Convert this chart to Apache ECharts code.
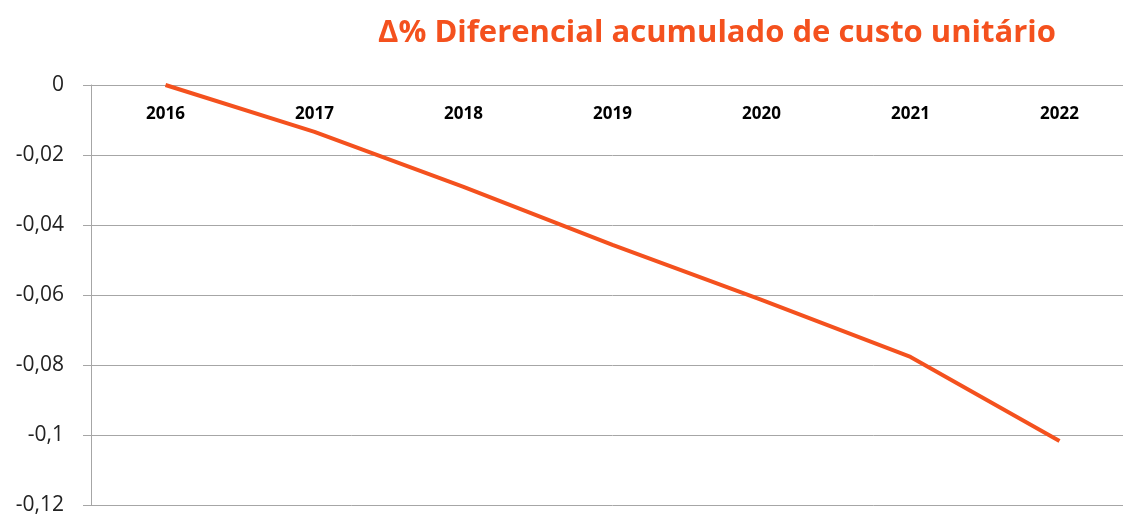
<!DOCTYPE html>
<html>
    <head>
        <meta charset="utf-8">
        <script src="https://cdn.jsdelivr.net/npm/echarts@6/dist/echarts.min.js"></script>
        <title>Diferencial acumulado</title>
        <style>
            html, body { margin: 0; padding: 0; background: #fff; overflow: hidden; }
            /* o gráfico original é cortado à direita: o div passa da janela */
            #main { width: 1134px; height: 517px; }
        </style>
    </head>
    <body>
        <div id="main"></div>
        <script type="text/javascript">
            // dados
            var anos = ['2016', '2017', '2018', '2019', '2020', '2021', '2022'];
            var diferencial = [0, -0.0134, -0.0291, -0.0457, -0.0614, -0.0777, -0.1017];
            var yMin = -0.12, yMax = 0, yStep = 0.02;

            var laranja = '#f4511e';
            var myChart = echarts.init(document.getElementById('main'));

            var option = {
                animation: false,
                title: {
                    text: '\u0394% Diferencial acumulado de custo unitário',
                    left: 712,
                    textAlign: 'center',
                    top: 13,
                    textStyle: {
                        color: laranja,
                        fontSize: 31,
                        fontWeight: 'bold',
                        fontFamily: 'Open Sans'
                    }
                },
                grid: { left: 91, top: 85, right: 0, bottom: 12 },
                xAxis: {
                    type: 'category',
                    position: 'top',
                    data: anos,
                    boundaryGap: true,
                    axisLine: { lineStyle: { color: '#a6a6a6', width: 1 } },
                    axisTick: { inside: true, length: 8, lineStyle: { color: '#a6a6a6' } },
                    axisLabel: {
                        inside: true,
                        margin: 21,
                        color: '#000',
                        fontSize: 17,
                        fontWeight: 'bold',
                        fontFamily: 'Open Sans'
                    },
                    splitLine: { show: false }
                },
                yAxis: {
                    type: 'value',
                    min: yMin,
                    max: yMax,
                    interval: yStep,
                    axisLine: { show: true, lineStyle: { color: '#a6a6a6', width: 1 } },
                    axisTick: { show: true, length: 8, lineStyle: { color: '#a6a6a6' } },
                    axisLabel: {
                        margin: 27,
                        color: '#222',
                        fontSize: 21,
                        fontFamily: 'Open Sans',
                        formatter: function (v) {
                            if (v === 0) return '0';
                            return String(+v.toFixed(2)).replace('.', ',');
                        }
                    },
                    splitLine: { lineStyle: { color: '#a6a6a6', width: 1 } }
                },
                series: [{
                    type: 'line',
                    data: diferencial,
                    symbol: 'none',
                    smooth: false,
                    lineStyle: { color: laranja, width: 4 }
                }]
            };

            myChart.setOption(option);
        </script>
    </body>
</html>
